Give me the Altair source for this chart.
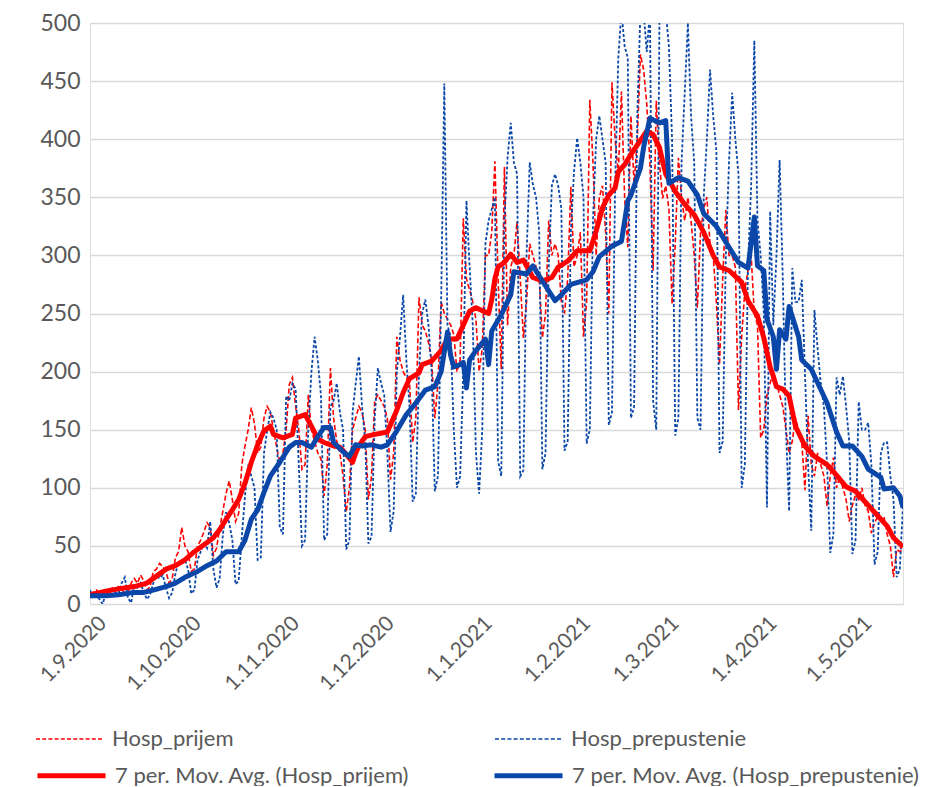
import altair as alt
import pandas as pd

START = "2020-09-01"

# daily values, one per day from 1.9.2020 (rows = weeks Tue..Mon)
hosp_prijem = [
    8, 10, 12, 9, 6, 7, 11,
    14, 12, 15, 13, 9, 10, 18,
    22, 18, 25, 20, 12, 15, 28,
    30, 35, 32, 28, 18, 22, 40,
    45, 66, 50, 45, 28, 30, 50,
    55, 62, 70, 66, 42, 48, 65,
    80, 95, 106, 90, 71, 78, 120,
    136, 150, 169, 155, 130, 135, 160,
    170, 165, 150, 135, 122, 130, 150,
    189, 195, 170, 150, 116, 120, 180,
    150, 140, 130, 125, 93, 120, 203,
    160, 140, 130, 110, 79, 100, 150,
    160, 170, 165, 150, 90, 110, 175,
    180, 175, 170, 160, 107, 130, 230,
    210, 200, 195, 190, 139, 160, 264,
    240, 235, 225, 210, 160, 190, 260,
    250, 245, 240, 232, 200, 210, 332,
    280, 270, 260, 245, 200, 220, 300,
    300, 320, 381, 280, 202, 376, 240,
    290, 300, 329, 280, 229, 260, 310,
    300, 290, 280, 229, 250, 330, 300,
    310, 300, 260, 250, 280, 359, 290,
    300, 320, 230, 260, 434, 380, 300,
    350, 360, 320, 250, 449, 400, 370,
    441, 350, 307, 420, 360, 400, 473,
    460, 430, 380, 287, 433, 380, 349,
    360, 340, 258, 310, 384, 350, 330,
    350, 330, 300, 255, 320, 340, 350,
    310, 300, 260, 206, 280, 339, 300,
    300, 290, 167, 230, 270, 287, 300,
    250, 240, 143, 150, 180, 190, 200,
    190, 180, 170, 150, 130, 140, 160,
    150, 140, 98, 162, 120, 110, 130,
    120, 110, 84, 110, 126, 100, 110,
    100, 90, 71, 85, 94, 90, 100,
    85, 80, 61, 70, 75, 72, 75,
    60, 50, 23, 47, 45, 47,
]

hosp_prepustenie = [
    12, 6, 8, 4, 0, 9, 10,
    13, 10, 9, 18, 23, 5, 1,
    16, 14, 18, 10, 4, 8, 18,
    24, 22, 25, 14, 5, 10, 26,
    36, 34, 38, 30, 9, 12, 38,
    45, 52, 48, 71, 30, 14, 22,
    60, 79, 70, 55, 17, 20, 58,
    93, 120, 110, 100, 38, 40, 130,
    149, 165, 160, 150, 66, 60, 179,
    175, 190, 185, 120, 50, 55, 150,
    200, 230, 210, 180, 55, 60, 170,
    175, 190, 165, 150, 47, 55, 165,
    190, 213, 170, 140, 52, 58, 160,
    203, 190, 180, 130, 62, 80, 200,
    230, 266, 210, 170, 88, 95, 200,
    250, 262, 240, 200, 97, 110, 260,
    448, 240, 230, 150, 100, 110, 200,
    347, 290, 240, 130, 95, 150, 310,
    330, 340, 350, 123, 110, 330, 384,
    414, 380, 370, 110, 115, 300, 380,
    361, 350, 320, 116, 130, 290, 360,
    370, 360, 340, 132, 140, 320, 372,
    401, 380, 350, 138, 150, 330, 400,
    420, 400, 380, 154, 165, 360, 470,
    510, 480, 470, 160, 170, 420, 510,
    510, 475, 510, 175, 150, 500, 520,
    510, 480, 400, 145, 160, 380, 440,
    500, 420, 380, 160, 150, 350, 400,
    460, 420, 390, 130, 140, 300, 380,
    440, 400, 370, 100, 120, 290, 360,
    485, 330, 300, 250, 83, 338, 240,
    300, 382, 280, 150, 80, 289, 260,
    260, 279, 200, 120, 63, 253, 220,
    190, 170, 120, 44, 60, 195, 180,
    196, 170, 140, 43, 55, 174, 150,
    150, 156, 120, 34, 45, 130, 139,
    139, 110, 90, 23, 30, 85,
]

# 7 per. moving averages, read at key days (days after 1.9.2020)
ma_prijem_day = [0, 5, 9, 14, 18, 21, 24, 27, 30, 33, 37, 39, 41, 44, 45, 47, 49, 51, 53, 55,
                 57, 58, 61, 64, 65, 68, 70, 72, 74, 77, 79, 81, 83, 84, 85, 87, 90, 94, 97, 99,
                 101, 104, 105, 108, 111, 113, 116, 118, 120, 122, 126, 127, 128, 129, 131, 133,
                 135, 137, 140, 143, 146, 148, 151, 154, 158, 160, 162, 164, 166, 167, 169, 171,
                 173, 176, 178, 180, 182, 185, 188, 191, 194, 197, 199, 202, 206, 208, 211, 213,
                 215, 216, 217, 219, 221, 223, 226, 229, 233, 235, 239, 242, 245, 248, 252, 254, 257]
ma_prijem_val = [8, 11, 13, 15, 18, 24, 30, 33, 38, 45, 53, 57, 64, 77, 81, 90, 104, 122, 137, 149,
                 153, 146, 143, 146, 160, 163, 153, 142, 139, 136, 135, 129, 122, 130, 136, 144, 146, 148, 167, 182,
                 194, 199, 206, 209, 218, 228, 228, 240, 252, 255, 250, 262, 280, 290, 294, 301,
                 294, 296, 281, 278, 281, 290, 295, 304, 304, 321, 341, 352, 358, 372, 378, 387,
                 395, 407, 404, 393, 370, 355, 344, 335, 320, 300, 290, 287, 277, 261, 248, 229,
                 204, 196, 187, 185, 179, 153, 136, 127, 120, 114, 101, 97, 88, 79, 67, 57, 49]

ma_prep_day = [0, 5, 9, 14, 17, 20, 24, 27, 30, 34, 37, 40, 43, 47, 49, 51, 53, 55, 57, 60,
               63, 65, 67, 70, 72, 74, 76, 77, 80, 82, 84, 86, 89, 92, 94, 97, 100, 103, 106, 109,
               111, 113, 114, 115, 117, 118, 119, 120, 122, 125, 126, 127, 130, 133, 134, 138,
               140, 143, 147, 149, 152, 157, 159, 161, 165, 168, 170, 171, 174, 175, 177, 180,
               182, 183, 186, 189, 192, 194, 198, 202, 205, 208, 210, 211, 213, 214, 216, 217,
               218, 220, 221, 224, 225, 228, 233, 236, 238, 241, 244, 246, 250, 251, 254, 256, 257]
ma_prep_val = [7, 7, 8, 10, 10, 12, 15, 18, 23, 28, 33, 37, 45, 45, 55, 73, 81, 96, 110, 122,
               135, 139, 139, 135, 144, 152, 152, 139, 131, 127, 137, 136, 137, 135, 137, 149, 163, 173, 184, 187,
               200, 234, 214, 204, 206, 208, 186, 210, 218, 228, 206, 235, 249, 266, 286, 284,
               291, 278, 261, 266, 275, 279, 286, 299, 308, 312, 347, 352, 375, 393, 418, 414,
               416, 362, 367, 364, 352, 336, 325, 307, 294, 289, 333, 291, 287, 245, 230, 202,
               236, 228, 256, 230, 210, 202, 173, 148, 136, 136, 127, 116, 109, 99, 100, 93, 83]

S1 = "Hosp_prijem"
S2 = "Hosp_prepustenie"
S3 = "7 per. Mov. Avg. (Hosp_prijem)"
S4 = "7 per. Mov. Avg. (Hosp_prepustenie)"
RED = "#ff0000"
BLUE = "#0a47a8"

t0 = pd.Timestamp(START)


def fmt(ts):
    return ts.strftime("%Y-%m-%dT00:00:00")


daily_dates = [fmt(t0 + pd.Timedelta(days=i)) for i in range(len(hosp_prijem))]
daily = pd.concat([
    pd.DataFrame({"date": daily_dates, "value": hosp_prijem, "series": S1}),
    pd.DataFrame({"date": daily_dates[:len(hosp_prepustenie)], "value": hosp_prepustenie, "series": S2}),
])
ma = pd.concat([
    pd.DataFrame({"date": [fmt(t0 + pd.Timedelta(days=d)) for d in ma_prijem_day],
                  "value": ma_prijem_val, "avg": S3}),
    pd.DataFrame({"date": [fmt(t0 + pd.Timedelta(days=d)) for d in ma_prep_day],
                  "value": ma_prep_val, "avg": S4}),
])

FONT = "Lato"
GREY = "#595959"

common = dict(title=None, orient="none", legendX=-55, columns=2, direction="horizontal",
              symbolType="stroke", symbolSize=4624, labelFontSize=22, labelFont=FONT, labelLimit=600,
              labelColor=GREY, labelOffset=7)
legend_daily = alt.Legend(legendY=681, columnPadding=257, symbolStrokeWidth=1.7, symbolDash=[4, 2.2], **common)
legend_ma = alt.Legend(legendY=716, columnPadding=74, symbolStrokeWidth=5, **common)

color_d = alt.Color("series:N", sort=[S1, S2], scale=alt.Scale(domain=[S1, S2], range=[RED, BLUE]), legend=legend_daily)
color_m = alt.Color("avg:N", sort=[S3, S4], scale=alt.Scale(domain=[S3, S4], range=[RED, BLUE]), legend=legend_ma)

month_ticks = [alt.DateTime(year=y, month=m, date=1) for y, m in
               [(2020, 9), (2020, 10), (2020, 11), (2020, 12), (2021, 1), (2021, 2), (2021, 3), (2021, 4), (2021, 5)]]

x = alt.X("date:T", title=None,
          scale=alt.Scale(domain=[alt.DateTime(year=2020, month=9, date=1), alt.DateTime(year=2021, month=5, date=16)]),
          axis=alt.Axis(values=month_ticks, format="%-d.%-m.%Y", labelAngle=-45, labelFontSize=21,
                        labelFont=FONT, labelColor=GREY, grid=False, ticks=False, domain=False,
                        labelPadding=8, labelOffset=5))
y = alt.Y("value:Q", title=None,
          scale=alt.Scale(domain=[0, 500], nice=False),
          axis=alt.Axis(values=list(range(0, 501, 50)), labelFontSize=23, labelFont=FONT, labelColor=GREY,
                        grid=True, gridColor="#d9d9d9", gridWidth=1.5, ticks=False, domain=False, labelPadding=10))

base_d = alt.Chart(daily)
l1 = base_d.transform_filter(alt.datum.series == S1).mark_line(
    clip=True, strokeCap="butt", strokeWidth=1.6, strokeDash=[5, 2.5]).encode(x=x, y=y, color=color_d)
l2 = base_d.transform_filter(alt.datum.series == S2).mark_line(
    clip=True, strokeCap="butt", strokeWidth=1.8, strokeDash=[3, 2]).encode(x=x, y=y, color=color_d)
base_m = alt.Chart(ma)
l3 = base_m.transform_filter(alt.datum.avg == S3).mark_line(
    clip=True, strokeJoin="round", strokeWidth=5).encode(x=x, y=y, color=color_m)
l4 = base_m.transform_filter(alt.datum.avg == S4).mark_line(
    clip=True, strokeJoin="round", strokeWidth=5).encode(x=x, y=y, color=color_m)

daily_layer = alt.layer(l1, l2)
ma_layer = alt.layer(l3, l4)

chart = alt.layer(daily_layer, ma_layer).resolve_scale(color="independent").properties(
    width=813, height=581,
    autosize=alt.AutoSizeParams(type="none"),
    padding={"left": 82, "top": 15, "right": 21, "bottom": 182},
).configure_view(stroke=None).configure(background="white")

chart.save("out.html", embed_options={"renderer": "svg", "actions": False})
